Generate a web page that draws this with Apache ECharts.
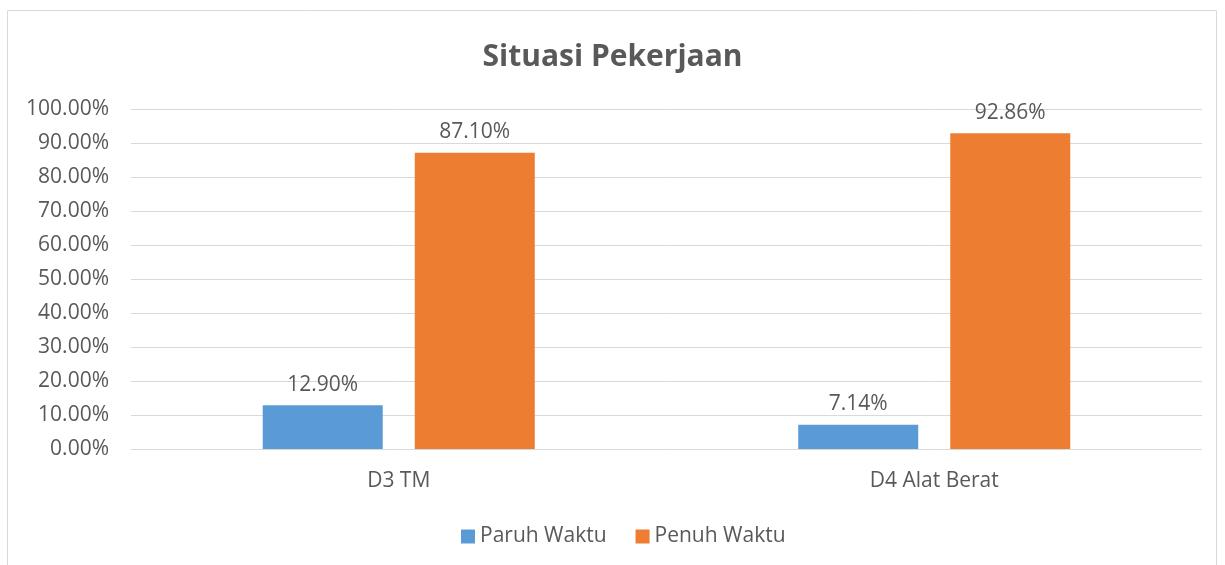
<!DOCTYPE html>
<html>
<head>
<meta charset="utf-8">
<script src="https://cdn.jsdelivr.net/npm/echarts@6/dist/echarts.min.js"></script>
<style>
  html, body { margin: 0; padding: 0; background: #fff; }
  #main { width: 1225px; height: 565px; }
</style>
</head>
<body>
<div id="main"></div>
<script>
var categories = ['D3 TM', 'D4 Alat Berat'];
var paruhWaktu = [12.90, 7.14];
var penuhWaktu = [87.10, 92.86];
var seriesNames = ['Paruh Waktu', 'Penuh Waktu'];

var chart = echarts.init(document.getElementById('main'));
var textColor = '#595959';
var font = '"Open Sans", "Noto Sans", sans-serif';

var labelOpt = {
    show: true,
    position: 'top',
    distance: 10,
    color: textColor,
    fontSize: 21,
    fontFamily: font,
    formatter: function (p) { return p.value.toFixed(2) + '%'; }
};

var option = {
    animation: false,
    graphic: [{
        type: 'rect',
        shape: { x: 7.5, y: 10.5, width: 1209, height: 560 },
        style: { fill: 'none', stroke: '#d9d9d9', lineWidth: 1 },
        silent: true
    }],
    title: {
        text: 'Situasi Pekerjaan',
        left: 'center',
        top: 37,
        textStyle: { color: textColor, fontSize: 30, fontWeight: 'bold', fontFamily: font }
    },
    legend: {
        bottom: 13,
        left: 456,
        itemWidth: 14,
        itemHeight: 14,
        itemGap: 29,
        icon: 'rect',
        textStyle: { color: textColor, fontSize: 21, fontFamily: font },
        data: seriesNames
    },
    grid: { left: 131, right: 23, top: 109, bottom: 116 },
    xAxis: {
        type: 'category',
        data: categories,
        axisLine: { show: false },
        axisTick: { show: false },
        axisLabel: { color: textColor, fontSize: 21, fontFamily: font, margin: 22 }
    },
    yAxis: {
        type: 'value',
        min: 0,
        max: 100,
        interval: 10,
        axisLine: { show: false },
        axisTick: { show: false },
        splitLine: { lineStyle: { color: '#d9d9d9', width: 1 } },
        axisLabel: {
            color: textColor, fontSize: 21, fontFamily: font, margin: 22,
            formatter: function (v) { return v.toFixed(2) + '%'; }
        }
    },
    series: [{
        name: seriesNames[0],
        type: 'bar',
        data: paruhWaktu,
        barWidth: 120,
        barGap: '26.7%',
        itemStyle: { color: '#5b9bd5' },
        label: labelOpt
    }, {
        name: seriesNames[1],
        type: 'bar',
        data: penuhWaktu,
        barWidth: 120,
        itemStyle: { color: '#ed7d31' },
        label: labelOpt
    }]
};
chart.setOption(option);
</script>
</body>
</html>
